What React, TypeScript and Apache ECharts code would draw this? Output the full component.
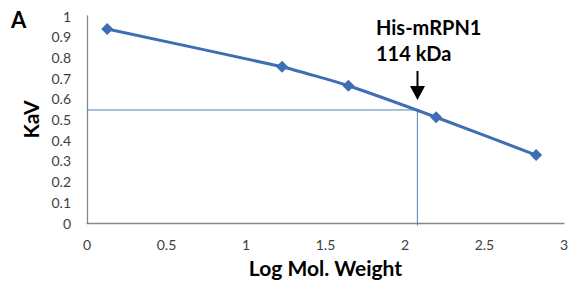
import React, { useEffect, useRef } from "react";
import * as echarts from "echarts";

const logMW = [0.127, 1.227, 1.644, 2.196, 2.825];
const kav = [0.937, 0.755, 0.663, 0.511, 0.328];
const sampleLogMW = 2.078;
const sampleKav = 0.546;
const xTitle = "Log Mol. Weight";
const yTitle = "KaV";
const annotation = ["His-mRPN1", "114 kDa"];

export default function App() {
  const ref = useRef<HTMLDivElement>(null);
  useEffect(() => {
    if (!ref.current) return;
    const chart = echarts.init(ref.current, undefined, { renderer: "svg" });
    const font = "Lato, 'Open Sans', sans-serif";
    chart.setOption({
      animation: false,
      grid: { left: 87, right: 3, top: 16, bottom: 63 },
      xAxis: {
        type: "value",
        min: 0,
        max: 3,
        interval: 0.5,
        name: xTitle,
        nameLocation: "middle",
        nameGap: 34,
        nameTextStyle: { fontFamily: font, fontWeight: "bold", fontSize: 21, color: "#000" },
        axisLine: { lineStyle: { color: "#888", width: 1.3 } },
        axisTick: { show: false },
        splitLine: { show: false },
        axisLabel: { fontFamily: font, fontSize: 14, color: "#404040", margin: 14 },
      },
      yAxis: {
        type: "value",
        min: 0,
        max: 1,
        interval: 0.1,
        name: yTitle,
        nameLocation: "middle",
        nameGap: 44,
        nameRotate: 90,
        nameTextStyle: { fontFamily: font, fontWeight: "bold", fontSize: 21, color: "#000" },
        axisLine: { show: true, lineStyle: { color: "#888", width: 1.3 } },
        axisTick: { show: false },
        splitLine: { show: false },
        axisLabel: { fontFamily: font, fontSize: 14, color: "#404040", margin: 16 },
      },
      series: [
        {
          type: "line",
          data: [
            [0, sampleKav],
            [sampleLogMW, sampleKav],
            [sampleLogMW, -0.012],
          ],
          showSymbol: false,
          clip: false,
          lineStyle: { color: "#4F81BD", width: 1 },
          silent: true,
          z: 1,
        },
        {
          type: "line",
          data: logMW.map((x, i) => [x, kav[i]]),
          smooth: 0.15,
          symbol: "diamond",
          symbolSize: 12,
          itemStyle: { color: "#3F6EB4" },
          lineStyle: { color: "#3F6EB4", width: 3 },
          z: 3,
        },
      ],
      graphic: [
        {
          type: "text",
          x: 11,
          y: 19,
          style: {
            text: "A",
            fontFamily: font,
            fontWeight: "bold",
            fontSize: 22,
            fill: "#000",
            verticalAlign: "middle",
          },
        },
        {
          type: "text",
          x: 376,
          y: 27,
          style: {
            text: annotation[0],
            fontFamily: font,
            fontWeight: "bold",
            fontSize: 20,
            fill: "#000",
            verticalAlign: "middle",
          },
        },
        {
          type: "text",
          x: 376,
          y: 53,
          style: {
            text: annotation[1],
            fontFamily: font,
            fontWeight: "bold",
            fontSize: 20,
            fill: "#000",
            verticalAlign: "middle",
          },
        },
        {
          type: "line",
          shape: { x1: 417.5, y1: 71, x2: 417.5, y2: 88 },
          style: { stroke: "#000", lineWidth: 2 },
        },
        {
          type: "polygon",
          shape: { points: [[410, 86], [425, 86], [417.5, 100]] },
          style: { fill: "#000" },
        },
      ],
    });
    return () => chart.dispose();
  }, []);
  return (
    <div
      ref={ref}
      style={{ position: "absolute", left: 0, top: 0, width: 571, height: 286 }}
    />
  );
}
